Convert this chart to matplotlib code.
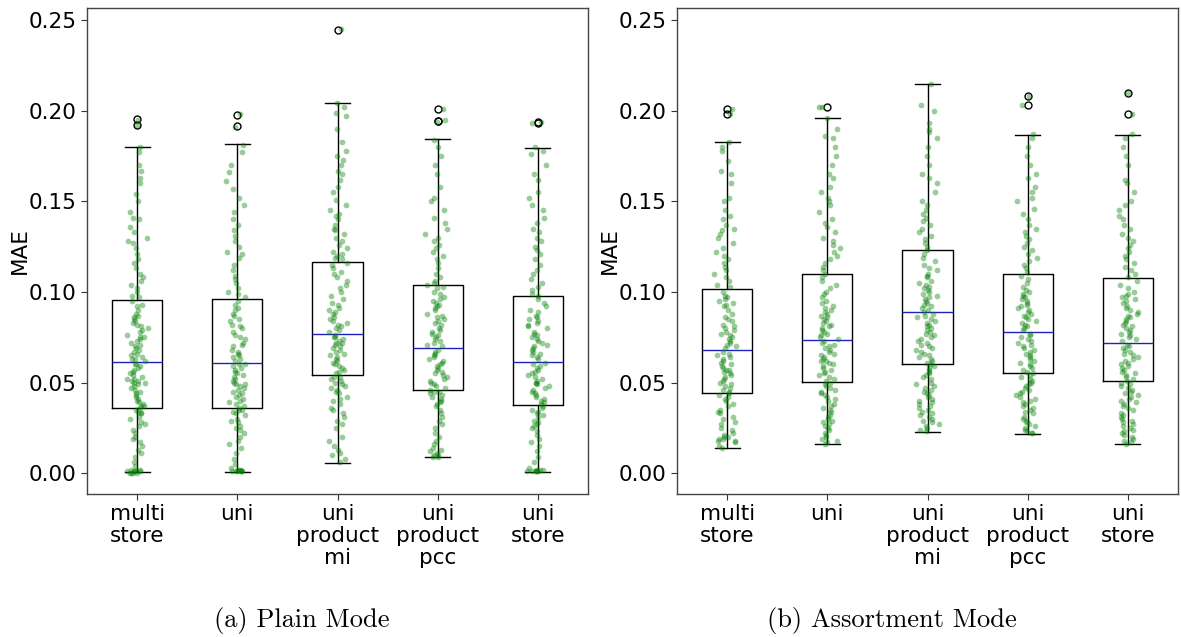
import numpy as np
import matplotlib
matplotlib.use("Agg")
import matplotlib.pyplot as plt

categories = ["multi\nstore", "uni", "uni\nproduct\nmi", "uni\nproduct\npcc", "uni\nstore"]
captions = ["(a) Plain Mode", "(b) Assortment Mode"]

# ---- box statistics (MAE) ----
plain_q1 = [0.0362, 0.0358, 0.0540, 0.0457, 0.0377]
plain_med = [0.0612, 0.0610, 0.0770, 0.0690, 0.0616]
plain_q3 = [0.0957, 0.0961, 0.1166, 0.1037, 0.0976]
plain_wlo = [0.0004, 0.0008, 0.0055, 0.0091, 0.0008]
plain_whi = [0.1800, 0.1816, 0.2040, 0.1846, 0.1795]
plain_fliers = [[0.1924, 0.1954], [0.1918, 0.1977], [0.2447], [0.1945, 0.1945, 0.2009], [0.1935, 0.1940]]

assort_q1 = [0.0442, 0.0504, 0.0603, 0.0550, 0.0510]
assort_med = [0.0682, 0.0735, 0.0887, 0.0779, 0.0720]
assort_q3 = [0.1018, 0.1097, 0.1232, 0.1097, 0.1077]
assort_wlo = [0.0138, 0.0161, 0.0229, 0.0216, 0.0161]
assort_whi = [0.1827, 0.1958, 0.2146, 0.1865, 0.1865]
assort_fliers = [[0.1981, 0.2011], [0.2019], [], [0.2032, 0.2079], [0.1983, 0.2098]]

# ---- individual points (MAE x 1000) ----
plain_multi_store = [0,0,0,0,1,1,1,1,1,2,2, 4,6,9,11,13,15,17,19,20,22,24,26,27,28,30,31,33,33,34,35,
    36,37,37,38,39,40,41,42,43,44,45,46,47,48,49,50,50,51,51,52,52,53,54,55,56,57,58,59,60,60,
    62,63,63,64,65,66,67,68,69,70,71,72,73,74,75,75,76,78,79,80,81,82,83,84,85,86,87,88,90,92,93,95,
    97,98,100,102,104,106,108,110,113,116,118,121,124,127,128,130,133,136,140,141,144,150,154,160,163,167,170,177,180,
    192,195]
plain_uni = [1,1,1,1,1,1,2,2,2,3, 5,8,11,14,16,18,20,22,24,25,26,28,29,30,32,33,34,35,35,
    36,37,38,39,40,41,42,43,44,45,46,47,48,49,49,50,51,52,53,54,55,56,57,58,59,60,60,
    62,63,64,65,66,67,68,70,71,72,74,75,76,78,80,81,82,84,85,87,88,90,91,93,95,
    97,99,100,102,105,107,109,112,115,119,121,122,125,128,131,134,137,140,144,148,152,157,161,166,170,177,181,
    191,198]
plain_uni_product_mi = [6,8,10,11,13,15,18,20,25,27,29,31,33,35,36,38,40,41,42,44,45,46,47,48,49,50,51,52,53,53,
    55,56,57,58,59,60,61,62,63,64,65,66,67,68,69,70,71,72,72,73,74,75,75,76,
    78,79,80,81,82,83,84,85,86,88,89,90,91,93,94,96,98,100,102,104,106,108,110,111,113,115,116,
    118,119,120,121,122,124,126,128,130,132,134,135,137,140,142,143,145,148,151,155,158,162,165,167,170,173,175,178,183,190,197,199,202,204,
    245]
plain_uni_product_pcc = [9,9,10,10,11,12,13,14,16,18,20,22,25,27,29,31,33,35,37,38,39,40,41,42,43,44,45,45,
    46,47,48,49,50,51,52,53,54,55,56,57,58,59,60,61,62,63,64,65,66,67,68,
    70,71,72,73,74,75,76,77,78,79,80,82,83,84,85,86,87,88,90,91,92,93,94,95,96,97,99,100,102,103,
    104,105,106,108,110,113,116,118,120,122,124,126,128,130,132,135,138,141,145,150,152,158,165,170,175,180,184,
    194,195,201]
plain_uni_store = [1,1,1,1,1,1,2,2,2,3,6,9,12,15,17,19,21,23,25,26,27,28,29,31,32,33,34,35,36,37,
    38,39,40,41,42,43,44,45,46,47,48,49,50,50,51,52,53,54,55,56,57,58,59,60,61,
    63,64,65,66,67,68,69,70,71,72,73,74,75,76,77,78,80,81,82,83,84,85,86,87,89,90,92,94,96,
    98,99,101,103,105,107,110,112,115,118,121,123,125,128,130,133,135,138,141,145,148,152,155,162,165,170,176,178,180,
    193,194]

assort_multi_store = [14,15,17,18,18,19,19,20,20,21,22,24,25,27,28,30,31,33,34,35,37,38,40,41,42,43,
    44,45,46,47,48,49,50,51,52,53,54,55,56,57,57,58,59,60,61,62,63,64,65,66,67,
    69,70,71,72,73,74,75,76,77,78,79,80,81,82,84,85,86,88,90,92,93,94,95,96,97,98,100,
    103,104,106,108,110,112,114,116,118,120,122,124,127,130,132,134,135,137,140,142,145,150,152,160,165,167,172,178,180,183,
    198,201]
assort_uni = [16,17,18,19,20,21,22,24,25,26,27,28,29,30,31,32,34,35,36,37,38,40,41,42,43,44,45,46,47,48,49,
    50,51,52,53,54,55,56,57,58,59,60,61,62,62,63,64,65,66,67,68,69,70,71,72,73,
    74,75,76,77,78,79,80,81,82,83,84,85,86,87,88,89,90,91,92,94,95,97,99,100,102,104,106,108,
    110,112,114,116,118,120,122,124,126,128,130,133,136,138,140,144,148,150,152,155,158,163,165,170,175,180,185,186,190,196,
    202,202]
assort_uni_product_mi = [23,24,25,26,27,28,29,30,31,32,33,34,35,36,37,38,39,40,41,42,43,44,45,46,47,48,49,50,52,53,54,55,56,57,58,59,
    60,61,62,63,64,65,66,67,68,69,70,71,72,73,74,75,76,77,78,79,80,81,82,83,84,85,86,87,88,
    89,90,91,92,93,94,95,96,97,98,99,100,101,102,103,104,105,106,108,109,110,112,113,115,117,119,121,
    123,125,127,129,131,133,135,137,139,141,143,145,148,150,155,160,163,165,170,175,180,185,188,190,193,200,203,215]
assort_uni_product_pcc = [22,22,23,24,25,26,27,28,29,30,31,33,34,35,36,37,38,39,40,41,42,43,44,45,46,47,48,49,50,51,52,53,54,
    55,56,57,58,59,60,61,62,63,64,65,66,67,68,69,70,71,72,73,74,75,76,77,
    79,80,81,82,83,84,85,86,87,88,89,90,91,92,93,94,95,96,97,98,99,100,101,103,105,107,109,
    111,113,115,117,119,121,123,125,127,129,131,133,135,137,140,143,146,150,152,155,158,163,165,170,175,180,185,187,
    203,208]
assort_uni_store = [16,17,18,19,20,21,22,23,24,25,26,27,28,29,30,31,32,33,35,36,37,38,39,40,41,42,43,44,45,46,47,48,49,50,
    51,52,53,54,55,56,57,58,59,60,61,62,63,64,65,66,67,68,69,70,71,
    73,74,75,76,77,78,79,80,81,82,83,84,85,86,87,88,89,90,91,92,94,95,96,97,98,99,100,102,104,106,
    108,110,112,114,116,118,120,122,124,126,128,130,132,135,137,140,142,145,148,150,155,160,162,170,175,180,185,187,
    198,210]

plain_points = [plain_multi_store, plain_uni, plain_uni_product_mi, plain_uni_product_pcc, plain_uni_store]
assort_points = [assort_multi_store, assort_uni, assort_uni_product_mi, assort_uni_product_pcc, assort_uni_store]

panels = [
    (plain_q1, plain_med, plain_q3, plain_wlo, plain_whi, plain_fliers, plain_points),
    (assort_q1, assort_med, assort_q3, assort_wlo, assort_whi, assort_fliers, assort_points),
]


def jitter(n, seed):
    # deterministic pseudo-random horizontal spread (position only)
    k = np.arange(n, dtype=float)
    h1 = np.abs(np.sin(k * 12.9898 + seed * 78.233) * 43758.5453) % 1.0
    h2 = np.abs(np.sin(k * 39.3468 + seed * 11.135) * 24634.6345) % 1.0
    h3 = np.abs(np.sin(k * 73.1560 + seed * 52.235) * 12345.6789) % 1.0
    return (h1 + h2 + h3 - 1.5) * 0.09


W, H = 1181, 637
fig = plt.figure(figsize=(W / 100, H / 100), dpi=100)
axes_px = [(87, 588), (677, 1178)]
top_px, bot_px = 8, 494
TICK_FS = 15.5

for pi, ((x0, x1), panel, cap) in enumerate(zip(axes_px, panels, captions)):
    q1, med, q3, wlo, whi, fl, pts = panel
    ax = fig.add_axes([x0 / W, 1 - bot_px / H, (x1 - x0) / W, (bot_px - top_px) / H])
    stats = []
    for i in range(len(categories)):
        stats.append(dict(med=med[i], q1=q1[i], q3=q3[i], whislo=wlo[i], whishi=whi[i],
                          fliers=fl[i], label=categories[i]))
    pos = np.arange(1, len(categories) + 1)
    ax.bxp(stats, positions=pos, widths=0.5, showfliers=True,
           boxprops=dict(color="black", linewidth=1.0),
           whiskerprops=dict(color="black", linewidth=1.0),
           capprops=dict(color="black", linewidth=1.0),
           medianprops=dict(color="#2020c0", linewidth=1.0),
           flierprops=dict(marker="o", markerfacecolor="none", markeredgecolor="black",
                           markersize=5, markeredgewidth=1.0))
    for i, vals in enumerate(pts):
        v = np.asarray(vals, dtype=float) / 1000.0
        off = jitter(len(v), pi * 5 + i + 1)
        ax.scatter(pos[i] + off, v, s=17, color="green", alpha=0.4, linewidths=0, zorder=3)
    ax.set_xlim(0.5, 5.5)
    ax.set_ylim(-0.0115, 0.2567)
    ax.set_yticks([0.0, 0.05, 0.10, 0.15, 0.20, 0.25])
    ax.set_yticklabels(["0.00", "0.05", "0.10", "0.15", "0.20", "0.25"])
    ax.set_xticks(pos)
    ax.set_xticklabels(categories, linespacing=1.1)
    ax.tick_params(labelsize=TICK_FS, length=4, width=0.8, color="#333333")
    ax.set_ylabel("MAE", fontsize=TICK_FS, labelpad=-1)
    for s in ax.spines.values():
        s.set_color("#444444")
        s.set_linewidth(1.0)
    cx = (x0 + x1) / 2 - 36
    fig.text(cx / W, 1 - 620 / H, cap, ha="center", va="center", fontsize=19, family="cmr10")

fig.savefig("out.png", dpi=100)
